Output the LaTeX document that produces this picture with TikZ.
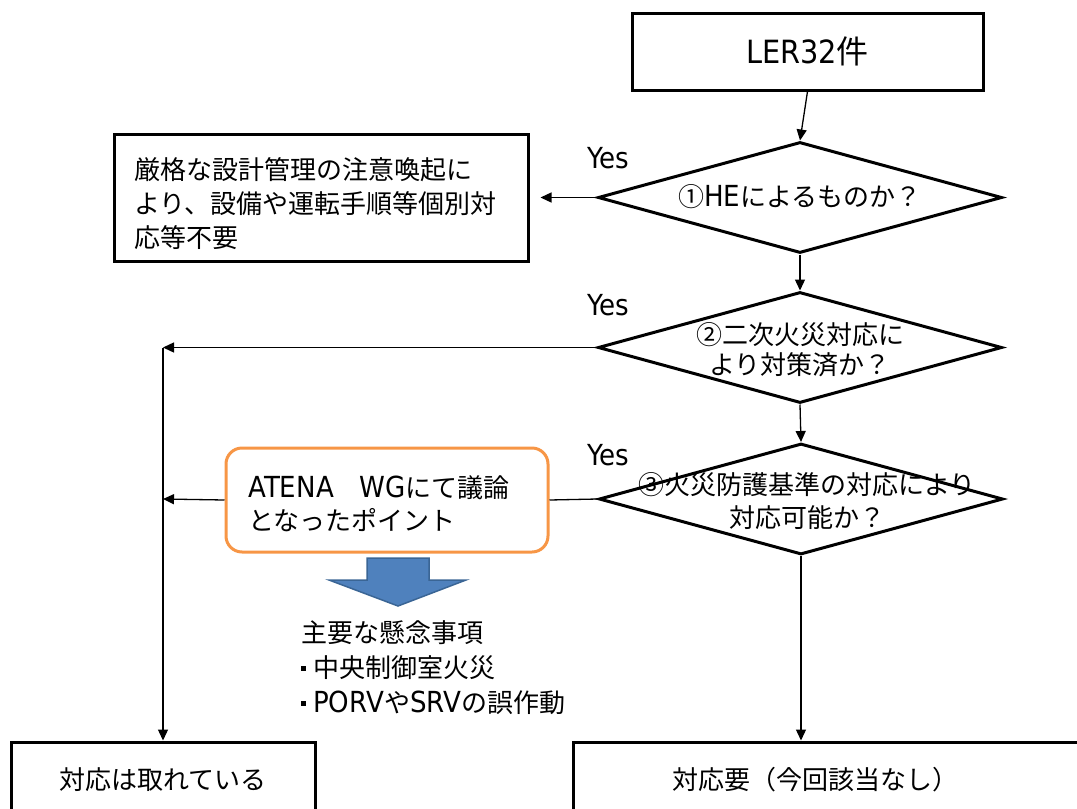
\documentclass[tikz,border=0pt]{standalone}
\usepackage{fontspec}
\setmainfont{Noto Sans CJK JP}
\newfontfamily\dv[FakeStretch=0.9]{DejaVu Sans}
\usetikzlibrary{arrows.meta,shapes.geometric}
\definecolor{orng}{HTML}{F79646}
\definecolor{bluefill}{HTML}{4F81BD}
\definecolor{blueline}{HTML}{3A6595}
\newcommand{\lat}[1]{{\dv\fontsize{29}{29}\selectfont #1}}
\newcommand{\sqb}{\raisebox{7pt}{\rule{5pt}{5pt}}\hspace{7pt}}
\tikzset{
  boxst/.style={draw=black, line width=3pt, rectangle, inner sep=0pt},
  dia/.style={draw=black, line width=3pt, diamond, inner sep=0pt, minimum width=404pt, minimum height=111pt},
  txt/.style={inner sep=0pt, font=\fontsize{26}{34}\selectfont},
  ln/.style={line width=1.3pt, draw=black},
  arr/.style={ln, -{Triangle[length=11pt,width=10pt]}},
}
\begin{document}
\begin{tikzpicture}[x=1pt,y=-1pt]
\useasboundingbox (0,0) rectangle (1077,809);
% boxes
\node[boxst, minimum width=351pt, minimum height=77pt] (ler) at (807.5,51.5) {};
\node[txt, font=\fontsize{32}{34}\selectfont] (lert) at (807.5,51) {{\dv LER32}件};
\node[boxst, minimum width=414pt, minimum height=127pt] (b1) at (321,197.5) {};
\node[txt, anchor=west, align=left] (b1t) at (134,204) {厳格な設計管理の注意喚起に\\より、設備や運転手順等個別対\\応等不要};
% diamonds
\node[dia] (d1) at (800,197.5) {};
\node[txt] (d1t) at (800,197) {①\lat{HE}によるものか？};
\node[dia] (d2) at (800,347.5) {};
\node[txt, align=center, font=\fontsize{26}{30}\selectfont] (d2t) at (800,350) {②二次火災対応に\\より対策済か？};
\node[dia] (d3) at (801,499) {};
\node[txt, align=center, font=\fontsize{26}{33}\selectfont] (d3t) at (807,501) {③火災防護基準の対応により\\対応可能か？};
% orange box
\node[draw=orng, line width=3pt, rounded corners=16pt, minimum width=322pt, minimum height=104pt, inner sep=0pt] (ob) at (387,500) {};
\node[txt, anchor=west, align=left, font=\fontsize{26}{33}\selectfont] (obt) at (248,503.5) {\lat{ATENA}　\lat{WG}にて議論\\となったポイント};
% bottom boxes
\node[boxst, minimum width=304pt, minimum height=100pt] (b3) at (163,792) {};
\node[txt] (b3t) at (163,780) {対応は取れている};
\node[boxst, minimum width=527pt, minimum height=100pt] (b4) at (836.5,792) {};
\node[txt] (b4t) at (815,780) {対応要（今回該当なし）};
% Yes labels
\node[txt, anchor=west] (y1) at (587,158) {\lat{Yes}};
\node[txt, anchor=west] (y2) at (587,305) {\lat{Yes}};
\node[txt, anchor=west] (y3) at (587,455) {\lat{Yes}};
% list
\node[txt, anchor=west, align=left, font=\fontsize{26}{35}\selectfont] (lst) at (301,668) {主要な懸念事項\\\sqb 中央制御室火災\\\sqb\lat{PORV}や\lat{SRV}の誤作動};
% blue arrow
\draw[fill=bluefill, draw=blueline, line width=1.5pt, line join=miter]
  (367,558) -- (429,558) -- (429,580) -- (466,580) -- (398,606) -- (329,580) -- (367,580) -- cycle;
% junctions
\coordinate (j1) at (163,347.5);
\coordinate (j2) at (163,499);
% connectors
\draw[arr] (ler.south) -- (d1.north);
\draw[arr, shorten >=11pt] (d1.west) -- (b1.east);
\draw[arr] (d1.south) -- (d2.north);
\draw[arr] (d2.west) -- (j1);
\draw[arr] (j1) -- (b3.north);
\draw[arr] (d2.south) -- (d3.north);
\draw[ln] (d3.west) -- (ob.east);
\draw[arr] (ob.west) -- (j2);
\draw[arr] (d3.south) -- (d3.south |- b4.north);
\end{tikzpicture}
\end{document}
